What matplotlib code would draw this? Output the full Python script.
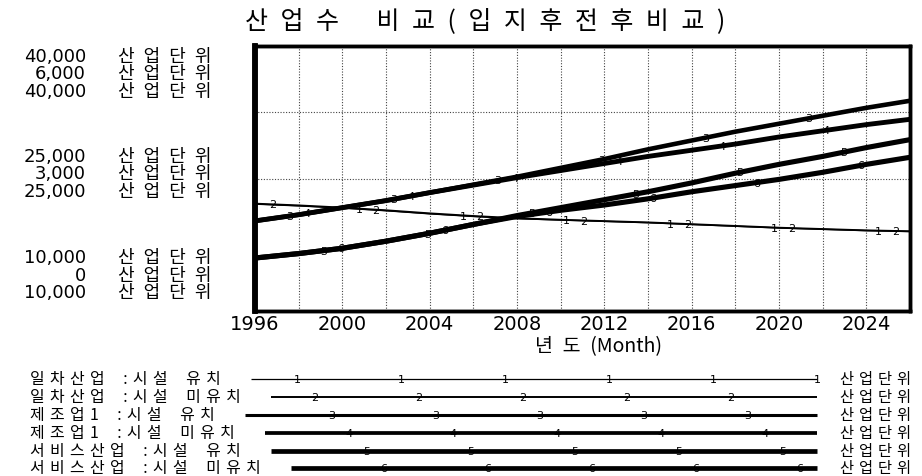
import numpy as np
import matplotlib
matplotlib.use("Agg")
import matplotlib.pyplot as plt
from matplotlib.lines import Line2D

# ---------------- data ----------------
years = [1996, 1998, 2000, 2002, 2004, 2006, 2008, 2010, 2012, 2014, 2016, 2018, 2020, 2022, 2024, 2026]
agri_with = [2420, 2380, 2330, 2270, 2200, 2140, 2090, 2060, 2030, 2000, 1960, 1920, 1880, 1850, 1820, 1800]
agri_without = [2430, 2390, 2340, 2280, 2210, 2150, 2100, 2065, 2035, 2005, 1965, 1925, 1885, 1855, 1825, 1805]
mfg_with = [20200, 20900, 21700, 22500, 23400, 24300, 25200, 26200, 27200, 28300, 29300, 30300, 31200, 32100, 33000, 33800]
mfg_without = [20200, 20900, 21700, 22500, 23400, 24250, 25100, 25900, 26700, 27500, 28200, 28900, 29700, 30400, 31100, 31700]
svc_with = [16000, 16500, 17100, 17900, 18800, 19800, 20800, 21700, 22600, 23500, 24500, 25600, 26600, 27500, 28500, 29400]
svc_without = [16000, 16500, 17100, 17900, 18800, 19800, 20700, 21400, 22000, 22700, 23500, 24200, 24900, 25700, 26600, 27400]

series_names = ["일차산업 :시설 유치", "일차산업 :시설 미유치",
                "제조업1 :시설 유치", "제조업1 :시설 미유치",
                "서비스산업 :시설 유치", "서비스산업 :시설 미유치"]
series_ids = ["1", "2", "3", "4", "5", "6"]
unit_label = "산업단위"
scale_top = ["40,000", "6,000", "40,000"]
scale_mid = ["25,000", "3,000", "25,000"]
scale_bot = ["10,000", "0", "10,000"]
xtick_years = [1996, 2000, 2004, 2008, 2012, 2016, 2020, 2024]
title = "산업수 비교(입지후전후비교)"
xlabel_kr = "년도"
xlabel_unit = "(Month)"

# ---------------- helpers ----------------
W, H = 922, 477
KR = ["Noto Sans CJK KR", "DejaVu Sans"]


def tracked(s, gap="\u2004", word="\u2002"):
    """Widen Hangul text the way the original renderer spaces its glyphs."""
    out = []
    for ch in s:
        out.append(word if ch == " " else ch)
    return gap.join(out)


def px(x, y):
    return x / W, 1 - y / H


fig = plt.figure(figsize=(W / 100, H / 100), dpi=100)
fig.patch.set_facecolor("white")

L, Rr, T, B = 255, 910, 47, 312
ax = fig.add_axes([L / W, 1 - B / H, (Rr - L) / W, (B - T) / H])
ax2 = ax.twinx()

ax.set_xlim(1996, 2026)
ax.set_ylim(10000, 40000)
ax2.set_ylim(0, 6000)

plot_lws = [1.0, 1.4, 3.3, 3.5, 3.7, 3.7]
leg_lws = [0.9, 1.4, 2.2, 2.7, 3.4, 3.4]
yrs = np.array(years, dtype=float)
data = [(ax2, agri_with), (ax2, agri_without), (ax, mfg_with), (ax, mfg_without),
        (ax, svc_with), (ax, svc_without)]
for i, (a, vals) in enumerate(data):
    a.plot(yrs, vals, color="black", lw=plot_lws[i], solid_capstyle="butt", zorder=3)
    t = 1996 + 0.79 * i
    while t <= 2026:
        if t > 1996.4:
            yv = np.interp(t, yrs, vals)
            a.text(t, yv, series_ids[i], fontsize=8, ha="center", va="center",
                   family="DejaVu Sans", color="black", zorder=4)
        t += 4.76

# ticks and grid
ax.set_xticks(xtick_years)
ax.set_xticks(np.arange(1998, 2026, 2), minor=True)
ax.set_xticklabels([str(y) for y in xtick_years], fontsize=14, family="DejaVu Sans")
ax.tick_params(axis="x", which="both", length=0, pad=2)
ax.set_yticks([25000, 32500])
ax.set_yticklabels([])
ax.tick_params(axis="y", length=0)
ax2.set_yticks([])
ax.grid(True, which="both", axis="x", ls=(0, (1, 1.5)), color="#444444", lw=0.8)
ax.grid(True, which="major", axis="y", ls=(0, (1, 1.5)), color="#444444", lw=0.8)
for a in (ax, ax2):
    for s in ["top", "bottom", "right"]:
        a.spines[s].set_linewidth(2.5)
    a.spines["left"].set_linewidth(4)

# title & axis label
fig.text(*px(485, 21), tracked(title, gap="\u2002", word="\u2002"), fontsize=18, family=KR,
         ha="center", va="center")
fig.text(*px(598, 347), tracked(xlabel_kr, gap="\u2002") + "\u2002" + xlabel_unit,
         fontsize=14, family=KR, ha="center", va="center")

# left scale labels
rows_y = [[57, 74, 92], [157, 174, 192], [258, 276, 293]]
for grp, ys in zip([scale_top, scale_mid, scale_bot], rows_y):
    for lab, y in zip(grp, ys):
        fig.text(*px(86, y), lab, fontsize=13, family="DejaVu Sans", ha="right", va="center")
        fig.text(*px(118, y), tracked(unit_label, gap="\u2002"), fontsize=13, family=KR,
                 ha="left", va="center")

# legend
renderer = fig.canvas.get_renderer()
leg_y = [380, 398, 416, 434, 452, 469]
for i, (name, y) in enumerate(zip(series_names, leg_y)):
    t = fig.text(*px(30, y), tracked(name), fontsize=11.5, family=KR, ha="left", va="center")
    bb = t.get_window_extent(renderer)
    x0 = bb.x1 + 30
    x1 = 817
    fig.add_artist(Line2D([x0 / W, x1 / W], [1 - y / H, 1 - y / H], color="black",
                          lw=leg_lws[i], solid_capstyle="butt", transform=fig.transFigure))
    mx = 297 + 17.4 * i
    while mx <= 820:
        if mx >= x0:
            fig.text(*px(mx, y), series_ids[i], fontsize=8, family="DejaVu Sans",
                     ha="center", va="center")
        mx += 104
    fig.text(*px(840, y), tracked(unit_label), fontsize=11, family=KR, ha="left", va="center")

fig.savefig("out.png", dpi=100, facecolor="white")
